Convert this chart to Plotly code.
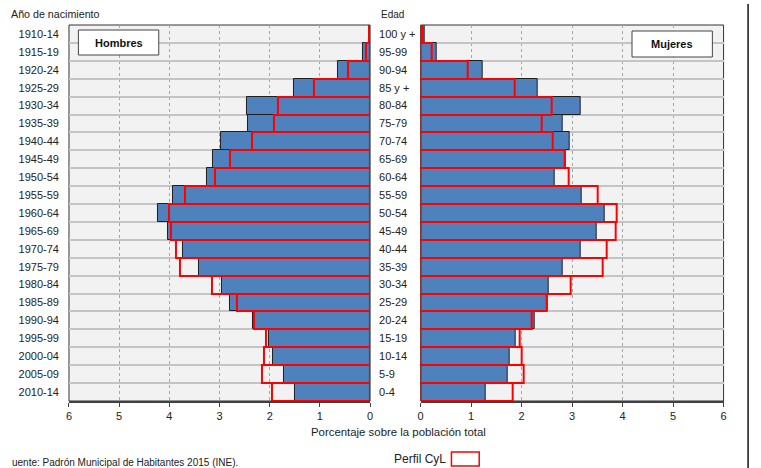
import plotly.graph_objects as go

W, H = 761, 468

birth_years = ["1910-14", "1915-19", "1920-24", "1925-29", "1930-34", "1935-39", "1940-44",
               "1945-49", "1950-54", "1955-59", "1960-64", "1965-69", "1970-74", "1975-79",
               "1980-84", "1985-89", "1990-94", "1995-99", "2000-04", "2005-09", "2010-14"]
ages = ["100 y +", "95-99", "90-94", "85 y +", "80-84", "75-79", "70-74", "65-69", "60-64",
        "55-59", "50-54", "45-49", "40-44", "35-39", "30-34", "25-29", "20-24", "15-19",
        "10-14", "5-9", "0-4"]

hombres = [0.01, 0.14, 0.63, 1.51, 2.46, 2.44, 2.97, 3.13, 3.26, 3.93, 4.22, 4.03, 3.73,
           3.40, 2.95, 2.79, 2.33, 2.01, 1.94, 1.72, 1.49]
hombres_cyl = [0.03, 0.09, 0.44, 1.11, 1.84, 1.91, 2.36, 2.80, 3.09, 3.69, 4.00, 3.96, 3.86,
               3.78, 3.16, 2.65, 2.32, 2.07, 2.11, 2.16, 1.96]
mujeres = [0.07, 0.31, 1.23, 2.32, 3.16, 2.82, 2.95, 2.88, 2.65, 3.19, 3.65, 3.49, 3.17,
           2.82, 2.53, 2.52, 2.26, 1.88, 1.76, 1.72, 1.29]
mujeres_cyl = [0.04, 0.22, 0.93, 1.87, 2.59, 2.40, 2.62, 2.85, 2.94, 3.51, 3.88, 3.86, 3.69,
               3.61, 2.98, 2.49, 2.20, 1.97, 2.00, 2.05, 1.82]

x_ticks = [0, 1, 2, 3, 4, 5, 6]

FONT = "Liberation Sans, Arial, sans-serif"
BLUE = "#4F81BD"
RED = "#FF0000"

def px(x):
    return x / W

def py(y):
    return 1 - y / H

fig = go.Figure()

fig.add_trace(go.Bar(x=hombres, y=birth_years, orientation="h", xaxis="x", yaxis="y",
                     marker=dict(color=BLUE, line=dict(color="#1f1f1f", width=1)),
                     showlegend=False, hoverinfo="x+y"))
fig.add_trace(go.Bar(x=hombres_cyl, y=birth_years, orientation="h", xaxis="x", yaxis="y",
                     marker=dict(color="rgba(0,0,0,0)", line=dict(color=RED, width=2)),
                     showlegend=False, hoverinfo="x+y"))
fig.add_trace(go.Bar(x=mujeres, y=ages, orientation="h", xaxis="x2", yaxis="y2",
                     marker=dict(color=BLUE, line=dict(color="#1f1f1f", width=1)),
                     showlegend=False, hoverinfo="x+y"))
fig.add_trace(go.Bar(x=mujeres_cyl, y=ages, orientation="h", xaxis="x2", yaxis="y2",
                     marker=dict(color="rgba(0,0,0,0)", line=dict(color=RED, width=2)),
                     showlegend=False, hoverinfo="x+y"))

xcommon = dict(tickvals=x_ticks, ticktext=[str(v) for v in x_ticks],
               showgrid=True, gridcolor="#A6A6A6", griddash="dot", gridwidth=1,
               zeroline=False, showline=True, linecolor="#404040", linewidth=2,
               ticks="outside", ticklen=4, tickcolor="#404040",
               tickfont=dict(family=FONT, size=11, color="#222"), fixedrange=True)
ycommon = dict(type="category", tickson="boundaries", showgrid=True, gridcolor="#C4C4C4",
               gridwidth=1.5, zeroline=False, showline=False, ticks="",
               tickfont=dict(family=FONT, size=11, color="#222"), autorange="reversed",
               ticklabelstandoff=9, fixedrange=True)

fig.update_layout(
    width=W, height=H,
    margin=dict(l=0, r=0, t=0, b=0),
    paper_bgcolor="white", plot_bgcolor="#F2F2F2",
    barmode="overlay", bargap=0,
    font=dict(family=FONT, size=11, color="#222"),
    xaxis=dict(domain=[px(66.5), px(370)], range=[6, 0], anchor="y", **xcommon),
    xaxis2=dict(domain=[px(421), px(726.3)], range=[0, 6], anchor="y2", **xcommon),
    yaxis=dict(domain=[py(401), py(25)], anchor="x", categoryarray=birth_years, **ycommon),
    yaxis2=dict(domain=[py(401), py(25)], anchor="free", position=px(369), side="right",
                categoryarray=ages, **ycommon),
)

shapes = [
    dict(type="rect", xref="x domain", yref="y domain", x0=0, x1=1, y0=0, y1=1,
         line=dict(color="#333", width=1), layer="below"),
    dict(type="rect", xref="x2 domain", yref="y2 domain", x0=0, x1=1, y0=0, y1=1,
         line=dict(color="#333", width=1), layer="below"),
    dict(type="rect", xref="paper", yref="paper", x0=px(76), x1=px(157), y0=py(55), y1=py(30),
         fillcolor="white", line=dict(color="#444", width=1)),
    dict(type="rect", xref="paper", yref="paper", x0=px(634), x1=px(715), y0=py(57), y1=py(31),
         fillcolor="white", line=dict(color="#444", width=1)),
    dict(type="rect", xref="paper", yref="paper", x0=px(452), x1=px(480), y0=py(466), y1=py(452),
         fillcolor="white", line=dict(color=RED, width=1.5)),
    dict(type="line", xref="paper", yref="paper", x0=px(751), x1=px(751), y0=0, y1=py(4),
         line=dict(color="#111", width=1.5)),
]
fig.update_layout(shapes=shapes)

ann = [
    dict(text="<b>Hombres</b>", x=px(116.5), y=py(42.5), xanchor="center", font=dict(size=11, color="#111")),
    dict(text="<b>Mujeres</b>", x=px(674.5), y=py(44), xanchor="center", font=dict(size=11, color="#111")),
    dict(text="Año de nacimiento", x=px(6), y=py(14), xanchor="left", font=dict(size=10.7)),
    dict(text="Edad", x=px(379), y=py(14), xanchor="left", font=dict(size=10)),
    dict(text="Porcentaje sobre la población total", x=px(398.5), y=py(432), xanchor="center",
         font=dict(size=11.4)),
    dict(text="Perfil CyL", x=px(449), y=py(459), xanchor="right", font=dict(size=12)),
    dict(text="uente: Padrón Municipal de Habitantes 2015 (INE).", x=px(7), y=py(462),
         xanchor="left", font=dict(size=10)),
]
for a in ann:
    a.setdefault("xref", "paper")
    a.setdefault("yref", "paper")
    a.setdefault("showarrow", False)
    a.setdefault("yanchor", "middle")
    fig.add_annotation(**a)

fig.write_html("out.html", config={"displayModeBar": False},
               post_script="document.body.style.margin='0';document.body.style.overflow='hidden';")
